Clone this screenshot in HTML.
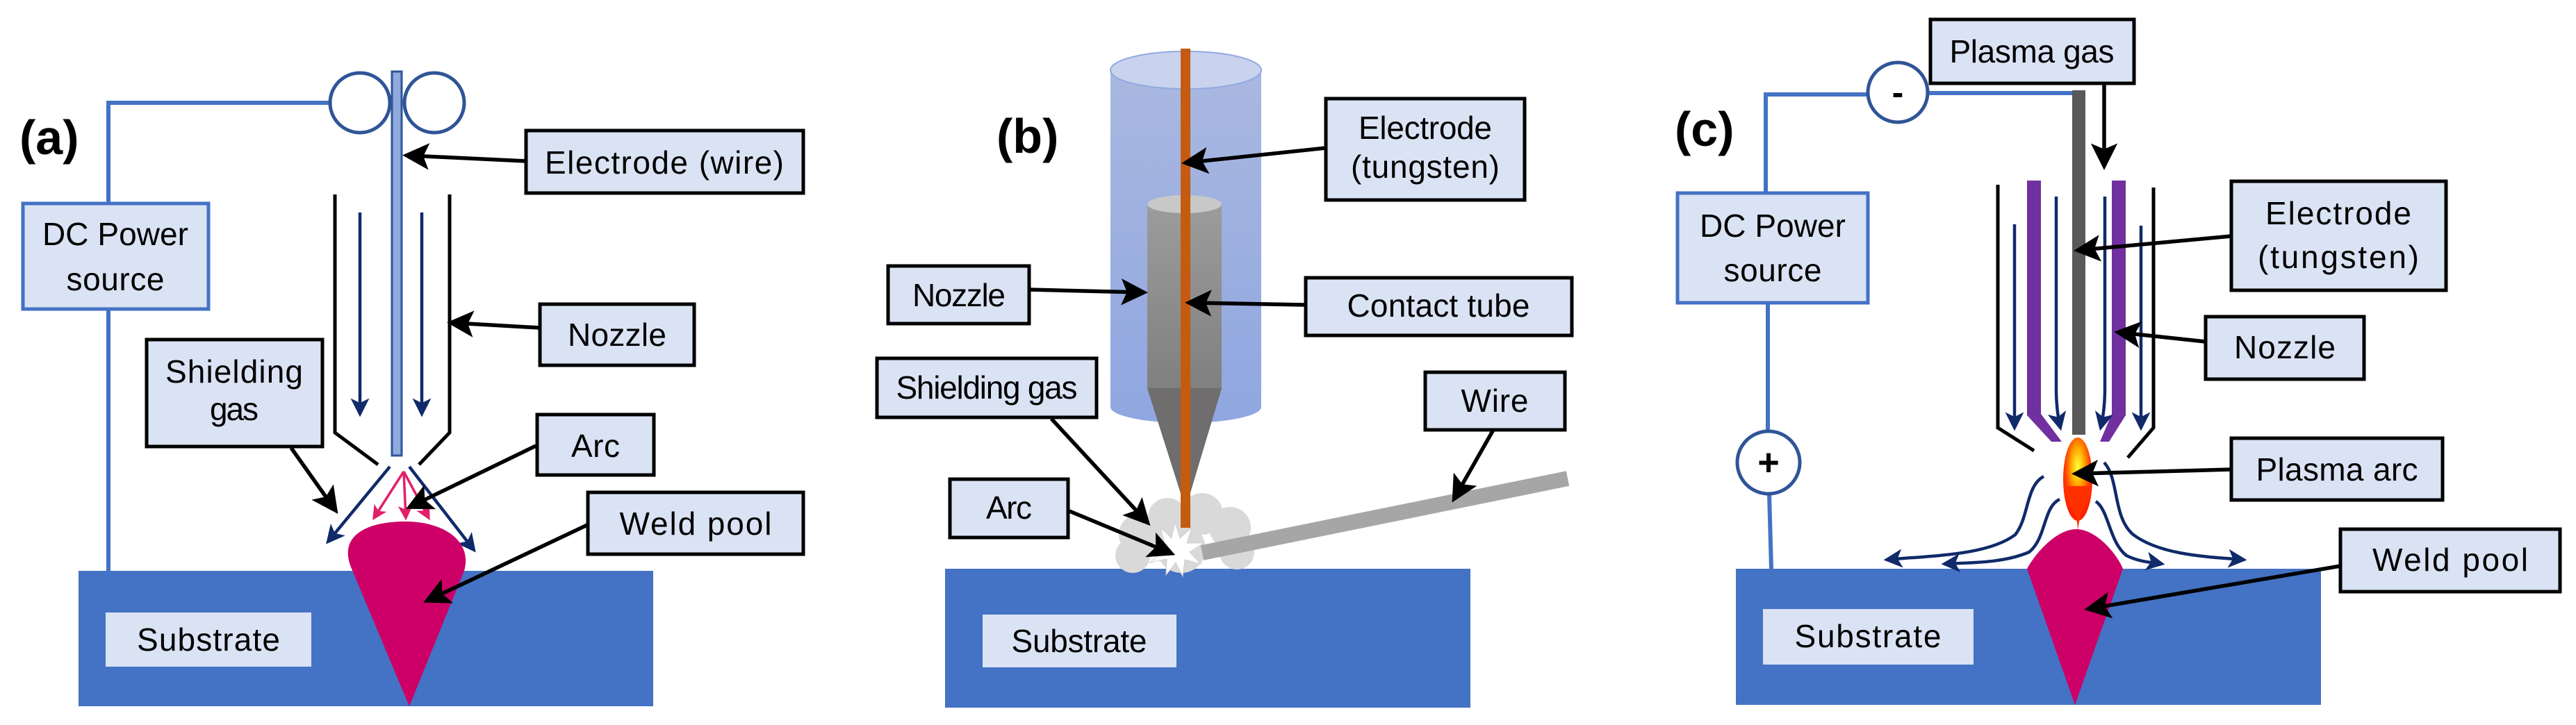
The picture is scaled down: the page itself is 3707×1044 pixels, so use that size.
<!DOCTYPE html>
<html><head><meta charset="utf-8"><style>html,body{margin:0;padding:0;background:#fff}svg{display:block}</style></head>
<body>
<svg width="3707" height="1044" viewBox="0 0 3707 1044" xmlns="http://www.w3.org/2000/svg" font-family="Liberation Sans, sans-serif">
<defs>
<marker id="ab" markerWidth="7" markerHeight="7" refX="5" refY="3.5" orient="auto" markerUnits="strokeWidth"><path d="M0,0 L7,3.5 L0,7 L1.5,3.5 z" fill="#000"/></marker>
<marker id="an" markerWidth="6" markerHeight="6" refX="5" refY="3" orient="auto" markerUnits="strokeWidth"><path d="M0,0 L6,3 L0,6 L1.5,3 z" fill="#102a6a"/></marker>
<marker id="ap" markerWidth="6" markerHeight="6" refX="5" refY="3" orient="auto" markerUnits="strokeWidth"><path d="M0,0 L6,3 L0,6 L1.5,3 z" fill="#e0206a"/></marker>
<linearGradient id="cyl" x1="0" y1="0" x2="0" y2="1"><stop offset="0" stop-color="#a9b8e0"/><stop offset="1" stop-color="#8fa6e0"/></linearGradient>
<linearGradient id="tube" x1="0" y1="0" x2="0" y2="1"><stop offset="0" stop-color="#9c9c9c"/><stop offset="1" stop-color="#6e6e6e"/></linearGradient>
<radialGradient id="flame" cx="0.5" cy="0.35" r="0.6"><stop offset="0" stop-color="#ffff40"/><stop offset="0.35" stop-color="#ffb000"/><stop offset="0.7" stop-color="#ff4000"/><stop offset="1" stop-color="#ff2000"/></radialGradient>
</defs>
<style>
.bx{fill:#dae3f3;stroke:#000;stroke-width:5}
.bb{fill:#dae3f3;stroke:#4472c4;stroke-width:5}
.t{font-size:46px;fill:#000;text-anchor:middle}
.ar{stroke:#000;stroke-width:5.5;fill:none;marker-end:url(#ab)}
.nv{stroke:#102a6a;stroke-width:4.5;fill:none;marker-end:url(#an)}
.lb{font-size:70px;font-weight:bold;fill:#000}
.w{stroke:#4472c4;stroke-width:6;fill:none}
</style>

<!-- ===== Panel (a) ===== -->
<text class="lb" x="28" y="222">(a)</text>
<rect x="113" y="822" width="827" height="195" fill="#4472c4"/>
<rect x="152" y="882" width="296" height="78" fill="#dae3f3"/>
<text class="t" x="300" y="937" textLength="206">Substrate</text>
<polyline class="w" points="156,822 156,148 474,148"/>
<circle cx="518" cy="148" r="43" fill="none" stroke="#2f5597" stroke-width="5"/>
<circle cx="625" cy="148" r="43" fill="none" stroke="#2f5597" stroke-width="5"/>
<rect x="564" y="103" width="14" height="553" fill="#8fa9dc" stroke="#2f5597" stroke-width="3"/>
<rect class="bb" x="33" y="293" width="267" height="152"/>
<text class="t" x="166" y="353" textLength="210">DC Power</text>
<text class="t" x="166" y="418" textLength="141">source</text>
<polyline points="482,280 482,623 544,669" fill="none" stroke="#000" stroke-width="5"/>
<polyline points="647,280 647,623 603,669" fill="none" stroke="#000" stroke-width="5"/>
<line class="nv" x1="518" y1="306" x2="518" y2="596"/>
<line class="nv" x1="607" y1="306" x2="607" y2="596"/>
<line class="nv" x1="561" y1="672" x2="472" y2="780"/>
<line class="nv" x1="589" y1="672" x2="682" y2="792"/>
<path d="M506,819 C485,770 530,751 583,751 C640,751 680,780 668,822 L589,1017 Z" fill="#cc0066"/>
<g stroke="#e0206a" stroke-width="3.5" fill="none" marker-end="url(#ap)">
<line x1="581" y1="679" x2="538" y2="746"/><line x1="581" y1="679" x2="584" y2="746"/><line x1="581" y1="679" x2="617" y2="746"/></g>
<rect class="bx" x="757" y="188" width="399" height="90"/>
<text class="t" x="956" y="250" textLength="344">Electrode (wire)</text>
<line class="ar" x1="757" y1="232" x2="590" y2="224"/>
<rect class="bx" x="777" y="438" width="222" height="88"/>
<text class="t" x="888" y="498" textLength="142">Nozzle</text>
<line class="ar" x1="777" y1="472" x2="654" y2="465"/>
<rect class="bx" x="211" y="489" width="253" height="154"/>
<text class="t" x="337" y="551" textLength="198">Shielding</text>
<text class="t" x="337" y="605" textLength="70">gas</text>
<line class="ar" x1="419" y1="645" x2="480" y2="731"/>
<rect class="bx" x="773" y="597" width="168" height="87"/>
<text class="t" x="857" y="658" textLength="70">Arc</text>
<line class="ar" x1="771" y1="642" x2="594" y2="728"/>
<rect class="bx" x="846" y="709" width="310" height="89"/>
<text class="t" x="1001" y="770" textLength="219">Weld pool</text>
<line class="ar" x1="845" y1="756" x2="619" y2="863"/>

<!-- ===== Panel (b) ===== -->
<text class="lb" x="1434" y="220">(b)</text>
<rect x="1360" y="819" width="756" height="200" fill="#4472c4"/>
<rect x="1414" y="885" width="279" height="76" fill="#dae3f3"/>
<text class="t" x="1553" y="939" textLength="195">Substrate</text>
<path d="M1598,101 L1598,586 A108.5,23 0 0 0 1815,586 L1815,101 Z" fill="url(#cyl)"/>
<ellipse cx="1706.5" cy="101" rx="108.5" ry="27" fill="#c9d3ee" stroke="#8fa9e0" stroke-width="2"/>
<path d="M1651,294 L1651,559 L1704,726 L1708,726 L1758,559 L1758,294 Z" fill="url(#tube)"/>
<path d="M1651,559 L1758,559 L1708,726 L1704,726 Z" fill="#6f6d6d"/>
<ellipse cx="1704.5" cy="294" rx="53.5" ry="13" fill="#c8c8c8"/>
<g fill="#d9d9d9">
<circle cx="1640" cy="770" r="30"/><circle cx="1680" cy="745" r="28"/><circle cx="1730" cy="740" r="30"/><circle cx="1770" cy="760" r="30"/>
<circle cx="1630" cy="800" r="25"/><circle cx="1780" cy="795" r="25"/><circle cx="1700" cy="790" r="35"/></g>
<rect x="1699" y="70" width="14" height="690" fill="#c55a11"/>
<line x1="1730" y1="796" x2="2256" y2="689" stroke="#a6a6a6" stroke-width="22"/>
<polygon points="1691,752 1698,775 1715,760 1708,782 1732,782 1712,795 1728,812 1705,806 1702,830 1692,810 1678,828 1679,805 1655,810 1672,795 1652,782 1676,782 1670,760 1686,775" fill="#fff" stroke="#d0d0d0" stroke-width="1"/>
<rect class="bx" x="1908" y="142" width="286" height="146"/>
<text class="t" x="2051" y="200" textLength="192">Electrode</text>
<text class="t" x="2051" y="256" textLength="214">(tungsten)</text>
<line class="ar" x1="1908" y1="213" x2="1711" y2="234"/>
<rect class="bx" x="1278" y="383" width="203" height="83"/>
<text class="t" x="1380" y="441" textLength="134">Nozzle</text>
<line class="ar" x1="1481" y1="417" x2="1641" y2="421"/>
<rect class="bx" x="1879" y="400" width="383" height="83"/>
<text class="t" x="2070" y="456" textLength="263">Contact tube</text>
<line class="ar" x1="1879" y1="439" x2="1716" y2="436"/>
<rect class="bx" x="1262" y="516" width="316" height="85"/>
<text class="t" x="1420" y="574" textLength="261">Shielding gas</text>
<line class="ar" x1="1513" y1="603" x2="1648" y2="749"/>
<rect class="bx" x="1367" y="690" width="170" height="84"/>
<text class="t" x="1452" y="747" textLength="66">Arc</text>
<line class="ar" x1="1539" y1="736" x2="1681" y2="795"/>
<rect class="bx" x="2051" y="536" width="201" height="83"/>
<text class="t" x="2151" y="593" textLength="97">Wire</text>
<line class="ar" x1="2149" y1="619" x2="2095" y2="714"/>

<!-- ===== Panel (c) ===== -->
<text class="lb" x="2410" y="210">(c)</text>
<rect x="2498" y="819" width="842" height="196" fill="#4472c4"/>
<rect x="2537" y="877" width="303" height="80" fill="#dae3f3"/>
<text class="t" x="2688" y="932" textLength="211">Substrate</text>
<polyline class="w" points="2541,278 2541,136 2688,136"/>
<line class="w" x1="2774" y1="134" x2="2992" y2="134"/>
<circle cx="2731" cy="133" r="43" fill="#fff" stroke="#2f5597" stroke-width="5"/>
<text x="2731" y="150" font-size="50" font-weight="bold" text-anchor="middle">-</text>
<line class="w" x1="2544" y1="436" x2="2544" y2="621"/>
<line class="w" x1="2546" y1="711" x2="2549" y2="819"/>
<circle cx="2545" cy="666" r="45" fill="#fff" stroke="#2f5597" stroke-width="5"/>
<text x="2545" y="684" font-size="54" font-weight="bold" text-anchor="middle">+</text>
<rect class="bb" x="2414" y="278" width="274" height="158"/>
<text class="t" x="2551" y="341" textLength="210">DC Power</text>
<text class="t" x="2551" y="405" textLength="141">source</text>
<rect x="2982" y="130" width="19" height="496" fill="#595959"/>
<polyline points="2875,266 2875,616 2927,649" fill="none" stroke="#000" stroke-width="5"/>
<polyline points="3099,270 3099,616 3062,659" fill="none" stroke="#000" stroke-width="5"/>
<path d="M2917,260 L2937,260 L2937,596 L2967,636 L2952,636 L2917,598 Z" fill="#7030a0"/>
<path d="M3039,260 L3059,260 L3059,598 L3035,636 L3022,636 L3039,596 Z" fill="#7030a0"/>
<line class="nv" x1="2899" y1="323" x2="2899" y2="616"/>
<path class="nv" d="M2959,283 L2959,560 Q2959,590 2965,616"/>
<path class="nv" d="M3029,283 L3029,560 Q3029,590 3023,616"/>
<line class="nv" x1="3081" y1="325" x2="3081" y2="616"/>
<ellipse cx="2990" cy="690" rx="21" ry="60" fill="url(#flame)"/>
<path d="M2972,700 Q2990,740 2990,765 Q2992,740 3009,700 Z" fill="#ff3000"/>
<path d="M2988,762 C2960,762 2930,795 2917,819 L2986,1015 L3055,819 C3045,795 3015,762 2988,762 Z" fill="#cc0066"/>
<path class="nv" d="M2941,686 C2915,700 2920,745 2900,770 C2860,800 2780,800 2715,806"/>
<path class="nv" d="M2964,719 C2940,730 2945,775 2920,795 C2880,812 2830,810 2798,812"/>
<path class="nv" d="M3028,666 C3050,690 3040,745 3070,770 C3110,800 3180,802 3229,806"/>
<path class="nv" d="M3016,722 C3035,735 3035,780 3060,800 C3080,810 3100,810 3111,812"/>
<rect class="bx" x="2778" y="28" width="293" height="92"/>
<text class="t" x="2924" y="90" textLength="237">Plasma gas</text>
<line class="ar" x1="3028" y1="120" x2="3028" y2="234"/>
<rect class="bx" x="3211" y="261" width="309" height="157"/>
<text class="t" x="3365" y="323" textLength="210">Electrode</text>
<text class="t" x="3365" y="386" textLength="232">(tungsten)</text>
<line class="ar" x1="3211" y1="340" x2="2995" y2="360"/>
<rect class="bx" x="3174" y="456" width="228" height="90"/>
<text class="t" x="3288" y="516" textLength="146">Nozzle</text>
<line class="ar" x1="3174" y1="492" x2="3053" y2="479"/>
<rect class="bx" x="3211" y="631" width="304" height="89"/>
<text class="t" x="3363" y="692" textLength="233">Plasma arc</text>
<line class="ar" x1="3211" y1="676" x2="2992" y2="682"/>
<rect class="bx" x="3368" y="762" width="316" height="90"/>
<text class="t" x="3526" y="822" textLength="224">Weld pool</text>
<line class="ar" x1="3368" y1="815" x2="3010" y2="876"/>
</svg>
</body></html>
